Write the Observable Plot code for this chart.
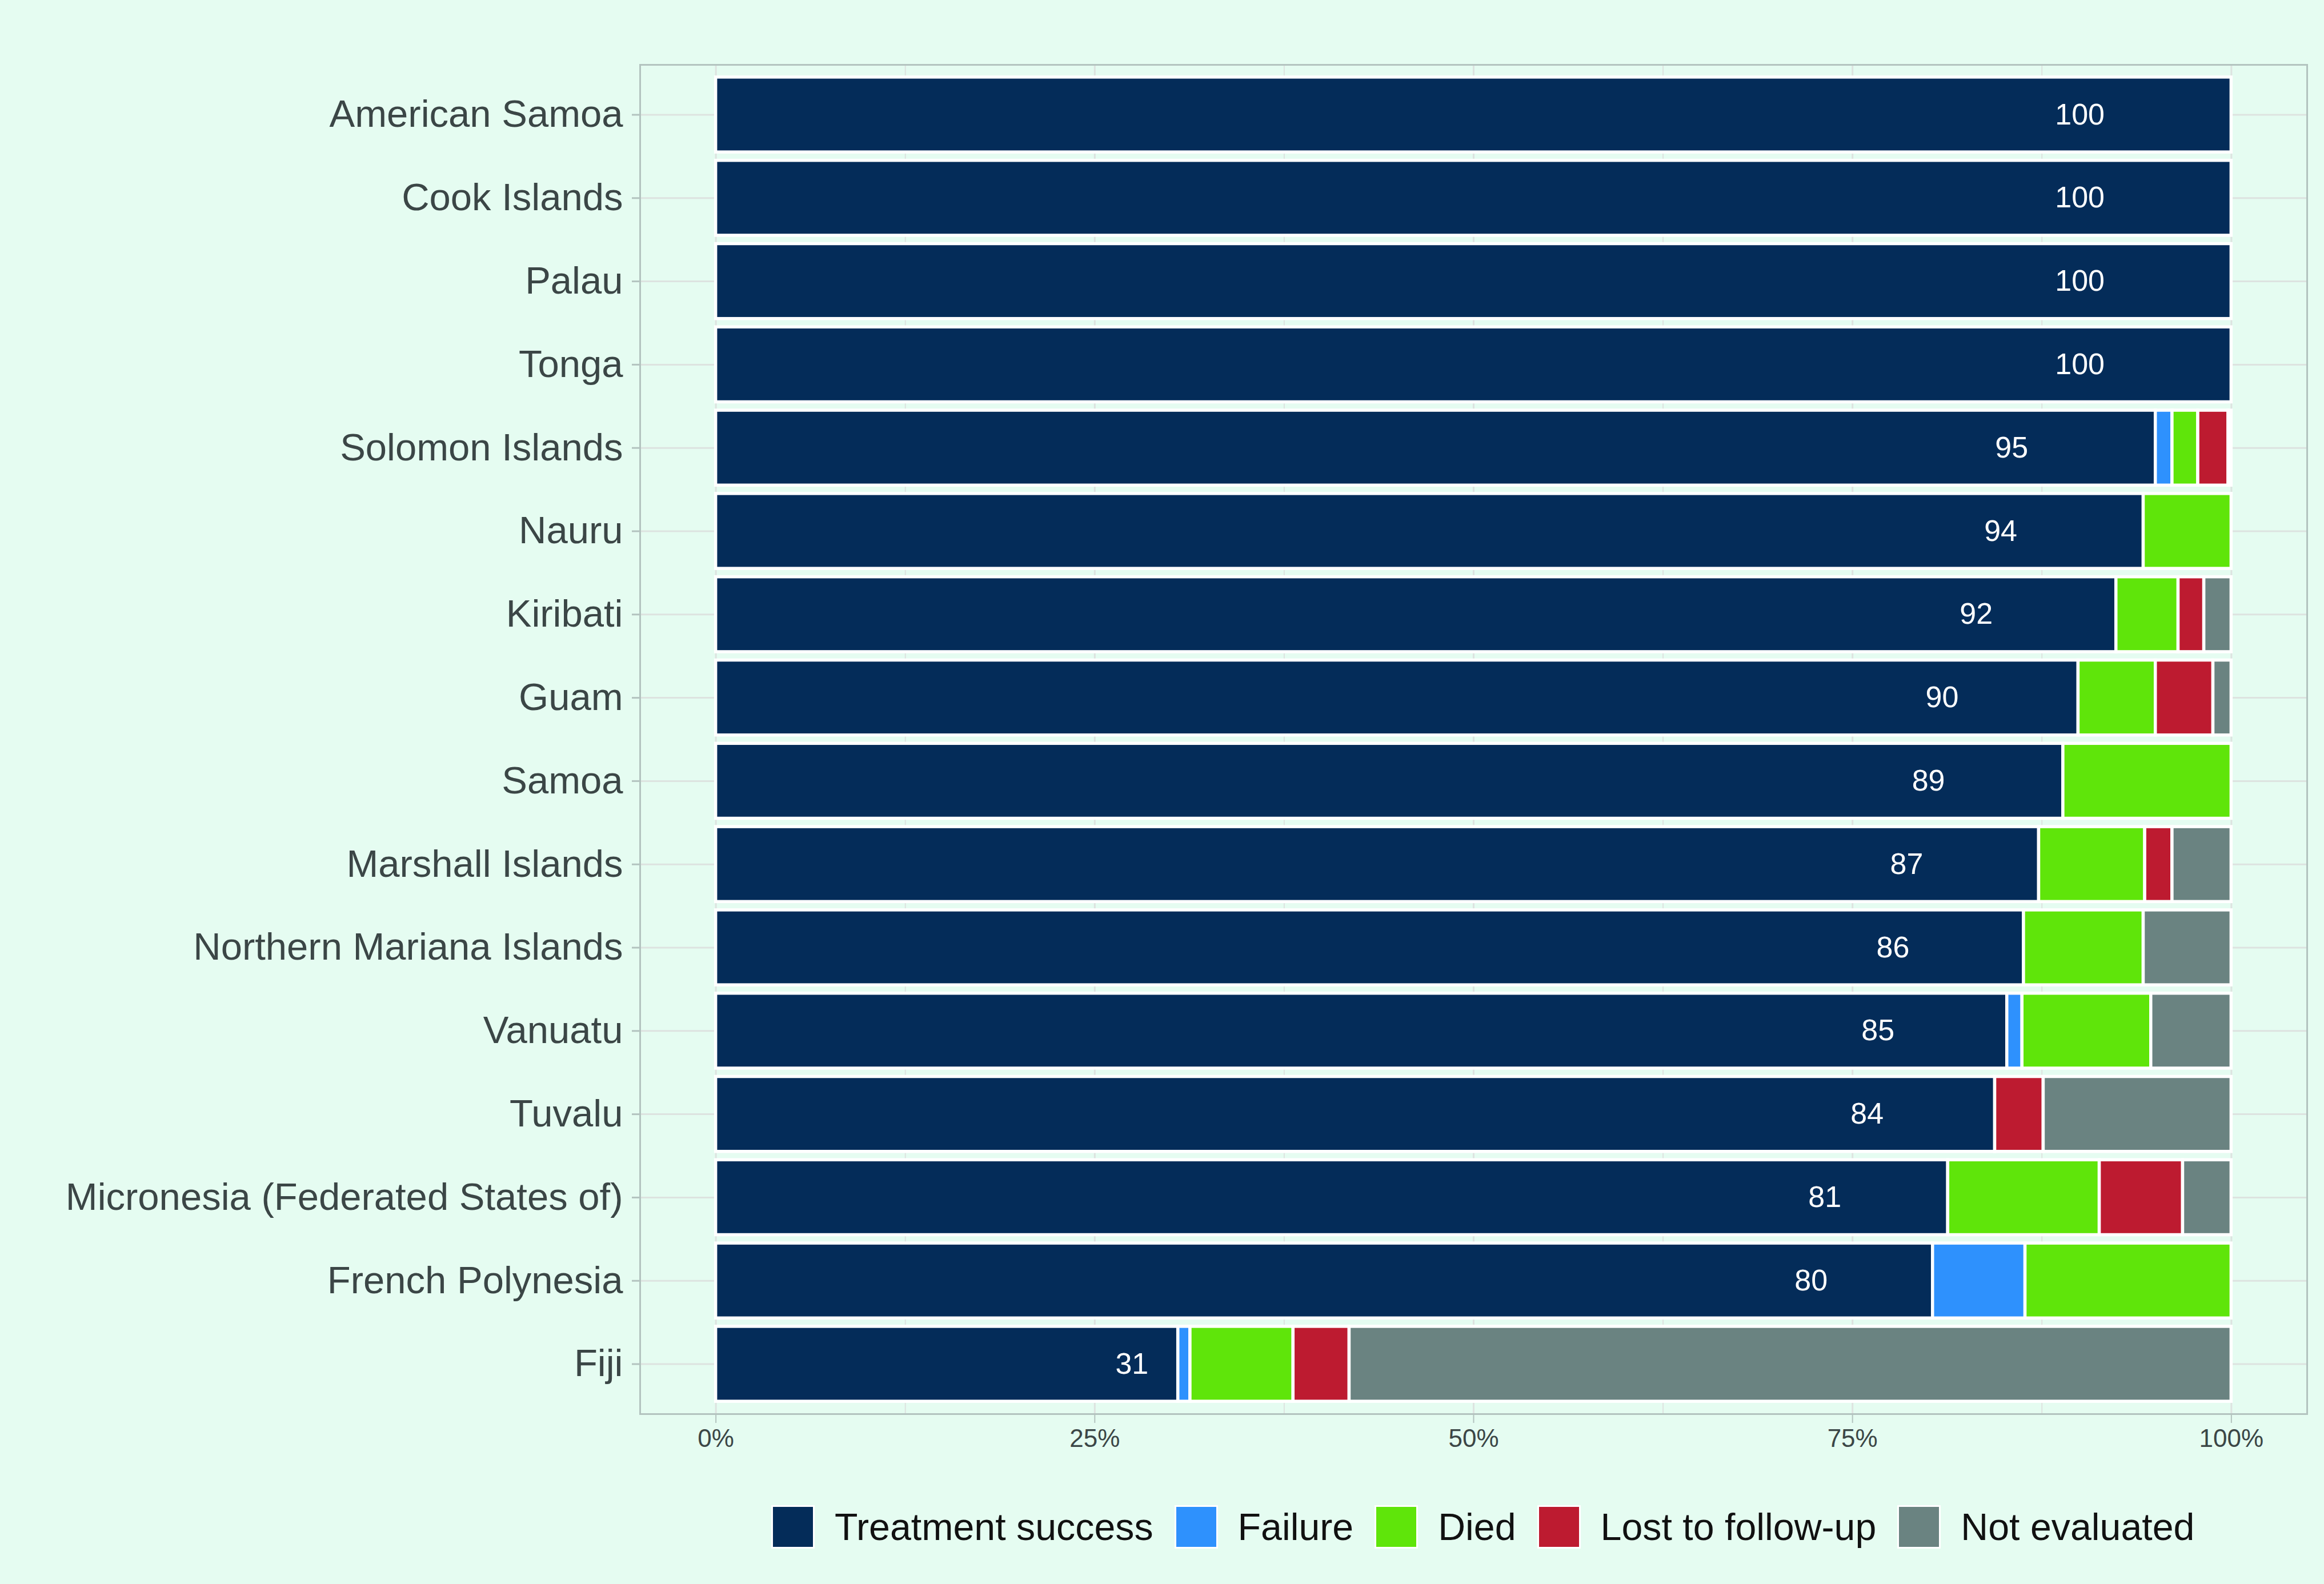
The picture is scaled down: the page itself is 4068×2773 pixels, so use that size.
<!DOCTYPE html>
<html>
<head>
<meta charset="utf-8">
<script src="https://cdn.jsdelivr.net/npm/d3@7"></script>
<script src="https://cdn.jsdelivr.net/npm/@observablehq/plot@0.6"></script>
<style>
  html, body { margin: 0; padding: 0; }
  body { width: 4068px; height: 2773px; background: #e5fcf1; position: relative; overflow: hidden;
         font-family: "Liberation Sans", Arial, sans-serif; }
  #chart { position: absolute; left: 0; top: 0; }
  #legend { position: absolute; left: 1350px; top: 2635px; display: flex; align-items: center; height: 76px; }
  .item { display: flex; align-items: center; margin-right: 37px; }
  .sw { width: 70px; height: 70px; border: 3px solid #ffffff; }
  .lab { margin-left: 35px; font-size: 66.3px; color: #111; line-height: 76px; white-space: nowrap; }
</style>
</head>
<body>
<div id="chart"></div>
<div id="legend"></div>
<script>
const countries = ["American Samoa","Cook Islands","Palau","Tonga","Solomon Islands","Nauru","Kiribati","Guam","Samoa","Marshall Islands","Northern Mariana Islands","Vanuatu","Tuvalu","Micronesia (Federated States of)","French Polynesia","Fiji"];
const outcomes = ["Treatment success","Failure","Died","Lost to follow-up","Not evaluated"];
const colors = ["#042c59","#2e91fd","#5fe50a","#bd1b30","#6a8381"];
const treatmentSuccess = [100,100,100,100,95.0,94.2,92.4,89.9,88.9,87.3,86.3,85.2,84.4,81.3,80.3,30.5];
const failure          = [0,0,0,0,1.1,0,0,0,0,0,0,1.0,0,0,6.1,0.8];
const died             = [0,0,0,0,1.7,5.8,4.1,5.1,11.1,7.0,7.9,8.5,0,10.0,13.6,6.8];
const lostToFollowUp   = [0,0,0,0,2.0,0,1.7,3.8,0,1.8,0,0,3.2,5.5,0,3.7];
const notEvaluated     = [0,0,0,0,0.2,0,1.8,1.2,0,3.9,5.8,5.3,12.4,3.2,0,58.2];
const xTicks = [0,25,50,75,100];
const xMinorTicks = [12.5,37.5,62.5,87.5];

const series = [treatmentSuccess, failure, died, lostToFollowUp, notEvaluated];
const rows = [];
countries.forEach((c, i) => {
  outcomes.forEach((o, j) => {
    const v = series[j][i];
    if (v > 0) rows.push({country: c, outcome: o, value: v});
  });
});
const labels = countries.map((c, i) => ({country: c, ts: treatmentSuccess[i]}));

const axisColor = "#b3c3bf";
const gridColor = "#dde3e0";
const textColor = "#3b4646";

const chart = Plot.plot({
  width: 4068,
  height: 2560,
  marginTop: 113,
  marginBottom: 85,
  marginLeft: 1120,
  marginRight: 30,
  style: {background: "transparent", fontFamily: "'Liberation Sans', Arial, sans-serif"},
  x: {domain: [-5, 105]},
  y: {domain: countries, paddingInner: 0.1, paddingOuter: 0.15, round: false},
  color: {domain: outcomes, range: colors},
  marks: [
    Plot.gridX(xMinorTicks, {stroke: gridColor, strokeOpacity: 1, strokeWidth: 2}),
    Plot.gridX(xTicks, {stroke: gridColor, strokeOpacity: 1, strokeWidth: 3}),
    Plot.gridY(countries, {stroke: gridColor, strokeOpacity: 1, strokeWidth: 3}),
    Plot.barX(rows, Plot.stackX({x: "value", y: "country", fill: "outcome", stroke: "white", strokeWidth: 5.5})),
    Plot.text(labels, {x: d => d.ts * 0.9, y: "country", text: d => String(Math.round(d.ts)), fill: "white", fontSize: 52}),
    Plot.frame({stroke: axisColor, strokeWidth: 3}),
    Plot.axisX(xTicks, {tickSize: 16, tickPadding: 10, fontSize: 44, stroke: axisColor, strokeWidth: 2, fill: textColor, tickFormat: d => d + "%", label: null}),
    Plot.axisY({tickSize: 14, tickPadding: 16, fontSize: 67, stroke: axisColor, strokeWidth: 3, fill: textColor, label: null})
  ]
});
document.getElementById("chart").appendChild(chart);

const legend = document.getElementById("legend");
outcomes.forEach((o, j) => {
  const item = document.createElement("div");
  item.className = "item";
  const sw = document.createElement("span");
  sw.className = "sw";
  sw.style.background = colors[j];
  const lab = document.createElement("span");
  lab.className = "lab";
  lab.textContent = o;
  item.appendChild(sw);
  item.appendChild(lab);
  legend.appendChild(item);
});
</script>
</body>
</html>
